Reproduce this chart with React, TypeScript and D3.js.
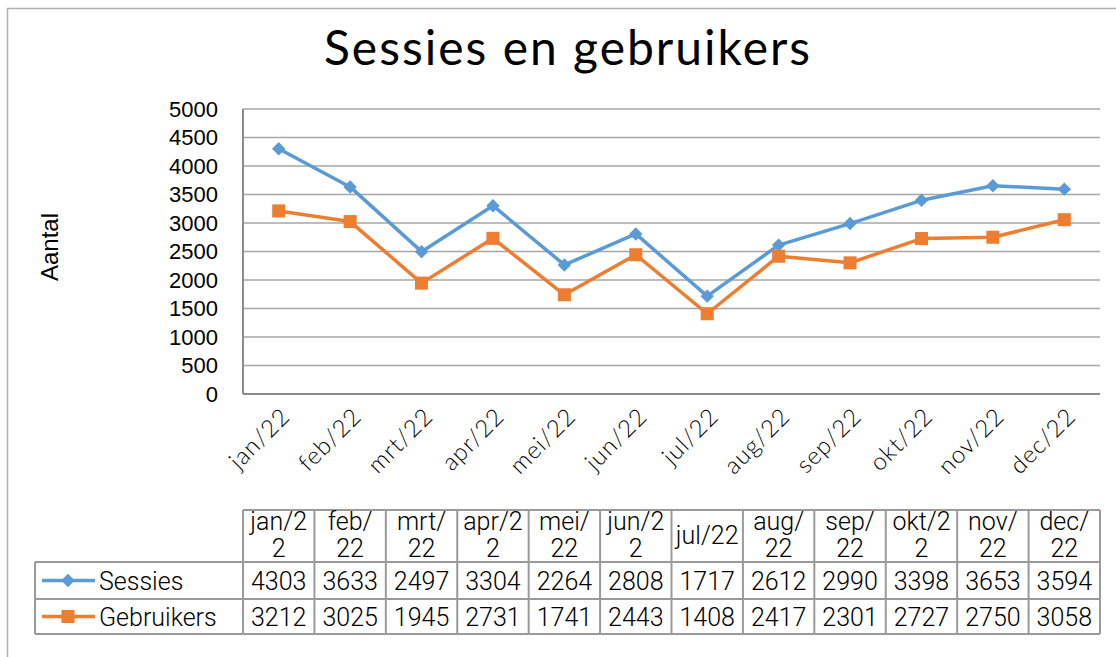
import React, { useEffect, useRef } from "react";
import * as d3 from "d3";

// chart data
const months = ["jan/22", "feb/22", "mrt/22", "apr/22", "mei/22", "jun/22", "jul/22", "aug/22", "sep/22", "okt/22", "nov/22", "dec/22"];
// how the data table wraps its header cells
const tableHeaders = ["jan/2\n2", "feb/\n22", "mrt/\n22", "apr/2\n2", "mei/\n22", "jun/2\n2", "jul/22", "aug/\n22", "sep/\n22", "okt/2\n2", "nov/\n22", "dec/\n22"];
const sessies = [4303, 3633, 2497, 3304, 2264, 2808, 1717, 2612, 2990, 3398, 3653, 3594];
const gebruikers = [3212, 3025, 1945, 2731, 1741, 2443, 1408, 2417, 2301, 2727, 2750, 3058];
const yTicks = [0, 500, 1000, 1500, 2000, 2500, 3000, 3500, 4000, 4500, 5000];

const W = 1116;
const H = 657;

export default function App() {
  const ref = useRef<SVGSVGElement>(null);

  useEffect(() => {
    const svg = d3.select(ref.current);
    svg.selectAll("*").remove();

    const plot = { left: 243, right: 1100, top: 109, bottom: 394 };
    const blue = "#5B9BD5";
    const orange = "#ED7D31";
    const grid = "#a6a6a6";
    const border = "#9a9a9a";

    // outer chart frame
    svg.append("rect")
      .attr("x", 7.5).attr("y", 8.5)
      .attr("width", W + 20).attr("height", H + 20)
      .attr("fill", "white").attr("stroke", "#b0b0b0").attr("stroke-width", 1.5);

    // title
    svg.append("text")
      .attr("x", 568).attr("y", 65)
      .attr("text-anchor", "middle")
      .style("font-family", "Lato, 'Noto Sans', sans-serif")
      .style("font-size", "48px")
      .style("letter-spacing", "2px")
      .text("Sessies en gebruikers");

    const x = d3.scaleBand<string>().domain(months).range([plot.left, plot.right]);
    const y = d3.scaleLinear().domain([0, 5000]).range([plot.bottom, plot.top]);

    // gridlines
    svg.append("g")
      .selectAll("line")
      .data(yTicks.filter((t) => t > 0))
      .enter()
      .append("line")
      .attr("x1", plot.left).attr("x2", plot.right)
      .attr("y1", (d) => y(d)).attr("y2", (d) => y(d))
      .attr("stroke", grid).attr("stroke-width", 1.5);

    // axis lines
    svg.append("line")
      .attr("x1", plot.left).attr("x2", plot.right)
      .attr("y1", plot.bottom).attr("y2", plot.bottom)
      .attr("stroke", "#8c8c8c").attr("stroke-width", 2);
    svg.append("line")
      .attr("x1", plot.left).attr("x2", plot.left)
      .attr("y1", plot.top).attr("y2", plot.bottom)
      .attr("stroke", "#8c8c8c").attr("stroke-width", 2);

    // y tick labels
    svg.append("g")
      .selectAll("text")
      .data(yTicks)
      .enter()
      .append("text")
      .attr("x", 218)
      .attr("y", (d) => y(d) + 7.5)
      .attr("text-anchor", "end")
      .style("font-family", "'Liberation Sans', Arial, sans-serif")
      .style("font-size", "22px")
      .text((d) => d);

    // y axis title
    svg.append("text")
      .attr("transform", "translate(58,247) rotate(-90)")
      .attr("text-anchor", "middle")
      .style("font-family", "'Liberation Sans', Arial, sans-serif")
      .style("font-size", "24px")
      .text("Aantal");

    // x tick labels
    const cx = (m: string) => (x(m) as number) + x.bandwidth() / 2;
    svg.append("g")
      .selectAll("text")
      .data(months)
      .enter()
      .append("text")
      .attr("transform", (d) => `translate(${cx(d) + 1},${plot.bottom + 12}) rotate(-45)`)
      .attr("text-anchor", "end")
      .attr("dy", "0.7em")
      .style("font-family", "Lato, 'Noto Sans', sans-serif")
      .style("font-weight", 300)
      .style("font-size", "24px")
      .style("letter-spacing", "1px")
      .text((d) => d);

    // lines
    const line = d3.line<number>()
      .x((d, i) => cx(months[i]))
      .y((d) => y(d));

    svg.append("path")
      .datum(sessies)
      .attr("d", line)
      .attr("fill", "none").attr("stroke", blue).attr("stroke-width", 3.5)
      .attr("stroke-linejoin", "round");
    svg.append("path")
      .datum(gebruikers)
      .attr("d", line)
      .attr("fill", "none").attr("stroke", orange).attr("stroke-width", 3.5)
      .attr("stroke-linejoin", "round");

    const diamond = d3.symbol().type(d3.symbolSquare).size(90);
    const square = d3.symbol().type(d3.symbolSquare).size(170);

    svg.append("g")
      .selectAll("path")
      .data(sessies)
      .enter()
      .append("path")
      .attr("d", diamond)
      .attr("transform", (d, i) => `translate(${cx(months[i])},${y(d)}) rotate(45)`)
      .attr("fill", blue);
    svg.append("g")
      .selectAll("path")
      .data(gebruikers)
      .enter()
      .append("path")
      .attr("d", square)
      .attr("transform", (d, i) => `translate(${cx(months[i])},${y(d)})`)
      .attr("fill", orange);

    // data table
    const rowTop = 510;
    const rowH1 = 562;
    const rowH2 = 599;
    const rowBottom = 634;
    const legendLeft = 35;
    const tbl = svg.append("g");
    const tableFont = "Roboto, 'Noto Sans', sans-serif";

    // horizontal lines
    tbl.append("line").attr("x1", plot.left).attr("x2", plot.right).attr("y1", rowTop).attr("y2", rowTop);
    [rowH1, rowH2, rowBottom].forEach((yy) => {
      tbl.append("line").attr("x1", legendLeft).attr("x2", plot.right).attr("y1", yy).attr("y2", yy);
    });
    // vertical lines
    tbl.append("line").attr("x1", legendLeft).attr("x2", legendLeft).attr("y1", rowH1).attr("y2", rowBottom);
    const colEdges = months.map((m) => x(m) as number).concat([plot.right]);
    colEdges.forEach((xx) => {
      tbl.append("line").attr("x1", xx).attr("x2", xx).attr("y1", rowTop).attr("y2", rowBottom);
    });
    tbl.selectAll("line").attr("stroke", border).attr("stroke-width", 2);

    // header cells
    tableHeaders.forEach((h, i) => {
      const lines = h.split("\n");
      const t = tbl.append("text")
        .attr("x", cx(months[i]))
        .attr("text-anchor", "middle")
        .style("font-family", tableFont)
        .style("font-weight", 300)
        .style("font-size", "25px");
      const mid = (rowTop + rowH1) / 2;
      lines.forEach((l, j) => {
        t.append("tspan")
          .attr("x", cx(months[i]))
          .attr("y", mid + 7.5 + (j - (lines.length - 1) / 2) * 27)
          .text(l);
      });
    });

    // value rows
    const rows = [
      { name: "Sessies", values: sessies, color: blue, mark: diamond, rot: 45, top: rowH1, bottom: rowH2 },
      { name: "Gebruikers", values: gebruikers, color: orange, mark: square, rot: 0, top: rowH2, bottom: rowBottom },
    ];
    rows.forEach((r) => {
      const mid = (r.top + r.bottom) / 2;
      tbl.append("line")
        .attr("x1", 42).attr("x2", 95).attr("y1", mid).attr("y2", mid)
        .attr("stroke", r.color).attr("stroke-width", 3.5);
      tbl.append("path")
        .attr("d", r.mark)
        .attr("transform", `translate(68,${mid}) rotate(${r.rot})`)
        .attr("fill", r.color);
      tbl.append("text")
        .attr("x", 99).attr("y", mid + 9)
        .style("font-family", tableFont)
        .style("font-weight", 300)
        .style("font-size", "25px")
        .text(r.name);
      tbl.append("g")
        .selectAll("text")
        .data(r.values)
        .enter()
        .append("text")
        .attr("x", (d, i) => cx(months[i]))
        .attr("y", mid + 9)
        .attr("text-anchor", "middle")
        .style("font-family", tableFont)
        .style("font-weight", 300)
        .style("font-size", "25px")
        .text((d) => d);
    });
  }, []);

  return (
    <svg
      ref={ref}
      width={W}
      height={H}
      style={{ position: "absolute", left: 0, top: 0, background: "white" }}
    />
  );
}
